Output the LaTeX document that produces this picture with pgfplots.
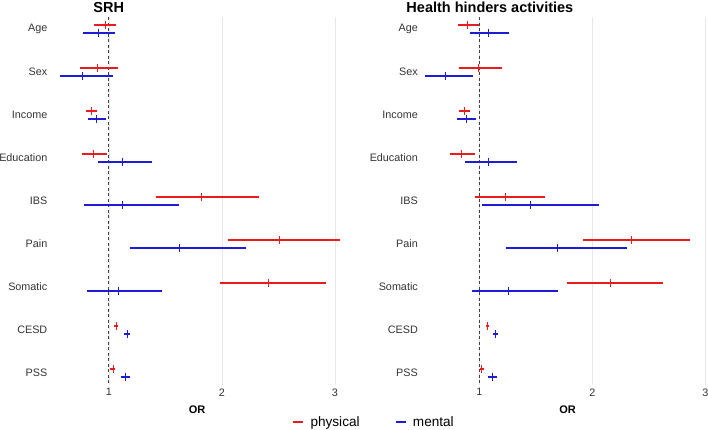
\documentclass[border=0pt]{standalone}
\usepackage{fontspec}
\setmainfont{Liberation Sans}
\usepackage{pgfplots}
\usepackage{pgfplotstable}
\pgfplotsset{compat=1.18}

\definecolor{phys}{RGB}{232,28,28}
\definecolor{ment}{RGB}{28,28,212}
\definecolor{gridc}{RGB}{232,232,232}

% row: 1=Age ... 9=PSS ; lo / est / hi of the OR
\pgfplotstableread{
row lo est hi
1 0.865 0.968 1.062
2 0.747 0.897 1.082
3 0.797 0.841 0.894
4 0.759 0.862 0.988
5 1.415 1.815 2.329
6 2.053 2.503 3.047
7 1.979 2.406 2.924
8 1.047 1.062 1.079
9 1.009 1.035 1.059
}\srhphys
\pgfplotstableread{
row lo est hi
1 0.776 0.906 1.056
2 0.571 0.765 1.041
3 0.815 0.888 0.976
4 0.903 1.121 1.385
5 0.779 1.121 1.621
6 1.185 1.621 2.212
7 0.809 1.085 1.468
8 1.138 1.162 1.188
9 1.109 1.147 1.191
}\srhment
\pgfplotstableread{
row lo est hi
1 0.814 0.894 0.994
2 0.823 0.994 1.198
3 0.823 0.867 0.920
4 0.737 0.841 0.965
5 0.959 1.230 1.584
6 1.917 2.342 2.861
7 1.776 2.159 2.628
8 1.059 1.074 1.086
9 1.003 1.021 1.044
}\hhaphys
\pgfplotstableread{
row lo est hi
1 0.920 1.080 1.263
2 0.522 0.699 0.944
3 0.805 0.882 0.968
4 0.876 1.080 1.333
5 1.027 1.451 2.062
6 1.239 1.690 2.310
7 0.935 1.260 1.699
8 1.124 1.142 1.162
9 1.080 1.115 1.156
}\hhament

\pgfplotsset{
  forest/.style={
    scale only axis, width=294pt, height=368pt,
    xmin=0.48, xmax=3.08, ymin=0.72, ymax=9.28, y dir=reverse,
    xtick={1,2,3}, ytick={1,...,9},
    yticklabels={Age,Sex,Income,Education,IBS,Pain,Somatic,CESD,PSS},
    xmajorgrids, major grid style={gridc, line width=0.5pt},
    axis line style={draw=none}, major tick length=0pt,
    tick label style={font=\fontsize{10.8}{12}\selectfont, text=black!80},
    yticklabel style={inner xsep=2.5pt},
    /pgf/number format/assume math mode=true,
    xlabel={OR},
    xlabel style={font=\bfseries\fontsize{11}{12}\selectfont,
      at={(axis description cs:0.5,0)}, anchor=center, yshift=-25pt},
    title style={font=\bfseries\fontsize{14.5}{16}\selectfont, anchor=base, yshift=-1pt},
  },
  ci/.style={only marks, mark=|, mark size=4pt,
    mark options={line width=0.5pt, #1}, color=#1, forget plot,
    error bars/.cd, x dir=both, x explicit, error mark=none,
    error bar style={line width=2.2pt, #1}},
}

\newcommand{\ciplot}[3]{%
  \addplot[ci=#1] table[x=est, y expr=\thisrow{row}+#3,
    x error plus expr=\thisrow{hi}-\thisrow{est},
    x error minus expr=\thisrow{est}-\thisrow{lo}] {#2};}

\begin{document}
\begin{tikzpicture}
\begin{axis}[forest, at={(50pt,45pt)},
    title={SRH}, title style={at={(axis description cs:0.2,1)}},
    legend columns=2,
    legend style={at={(axis description cs:1.102,-0.1005)}, anchor=center,
      draw=none, fill=none, font=\fontsize{13.6}{15}\selectfont,
      /tikz/every even column/.append style={column sep=33pt}},
    legend image code/.code={\draw[#1, line width=2.2pt] (0pt,0pt) -- (10pt,0pt);
      \path (15pt,0pt);}]
  \addplot[black!75, line width=0.7pt, dash pattern=on 3pt off 2.5pt, forget plot]
    coordinates {(1,0.72) (1,9.28)};
  \ciplot{phys}{\srhphys}{-0.086}
  \ciplot{ment}{\srhment}{0.086}
  \addlegendimage{phys}\addlegendentry{physical}
  \addlegendimage{ment}\addlegendentry{mental}
\end{axis}
\begin{axis}[forest, at={(420.5pt,45pt)},
    title={Health hinders activities}, title style={at={(axis description cs:0.236,1)}}]
  \addplot[black!75, line width=0.7pt, dash pattern=on 3pt off 2.5pt, forget plot]
    coordinates {(1,0.72) (1,9.28)};
  \ciplot{phys}{\hhaphys}{-0.086}
  \ciplot{ment}{\hhament}{0.086}
\end{axis}
\pgfresetboundingbox
\path[use as bounding box] (0,0) rectangle (708pt,430pt);
\end{tikzpicture}
\end{document}
